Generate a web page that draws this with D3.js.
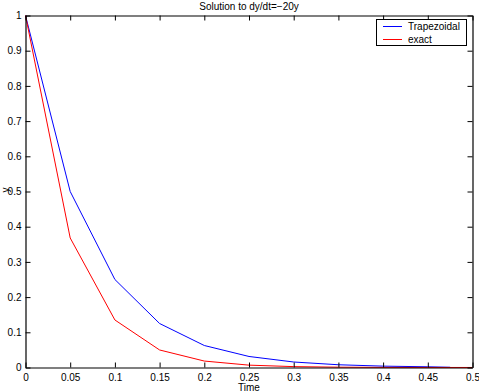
<!DOCTYPE html>
<html><head><meta charset="utf-8">
<script src="https://cdn.jsdelivr.net/npm/d3@7"></script>
<style>body{margin:0;background:#fff}svg{display:block}text{font-family:"Liberation Sans",Arial,sans-serif}</style>
</head><body>
<svg id="c" width="479" height="392"></svg>
<script>
const title = "Solution to dy/dt=\u221220y";
const xLabel = "Time";
const yLabel = "y";
const trapT = [0,0.05,0.1,0.15,0.2,0.25,0.3,0.35,0.4,0.45,0.475];
const trapY = [1,0.5,0.25,0.125,0.0625,0.0313,0.0156,0.0078,0.0039,0.002,0.0007];
const exactT = [0,0.05,0.1,0.15,0.2,0.25,0.3,0.35,0.4,0.45,0.5];
const exactY = [1,0.368,0.135,0.0498,0.0183,0.0067,0.0025,0.0009,0.0003,0.0001,0.00005];
const xTicks = [0,0.05,0.1,0.15,0.2,0.25,0.3,0.35,0.4,0.45,0.5];
const yTicks = [0,0.1,0.2,0.3,0.4,0.5,0.6,0.7,0.8,0.9,1];
const seriesNames = ["Trapezoidal","exact"];
const seriesColors = ["#0000ff","#ff0000"];

const svg = d3.select("#c");
const L=25.5, R=472.5, T=15.5, B=367.5;
const x = d3.scaleLinear().domain([0,0.5]).range([L,R]);
const y = d3.scaleLinear().domain([0,1]).range([B,T]);
const fmt = d => d===0 ? "0" : String(d);

// lines
const line = d3.line().x(d=>x(d[0])).y(d=>y(d[1]));
const series = [d3.zip(trapT,trapY), d3.zip(exactT,exactY)];
svg.selectAll("path.s").data(series).join("path").attr("class","s")
  .attr("d",line).attr("fill","none").attr("stroke",(d,i)=>seriesColors[i]).attr("stroke-width",1);

// axes
const tl=5;
const gB = svg.append("g").attr("transform",`translate(0,${B})`)
  .call(d3.axisBottom(x).tickValues(xTicks).tickFormat(fmt).tickSizeInner(-tl).tickSizeOuter(0).tickPadding(6));
const gT = svg.append("g").attr("transform",`translate(0,${T})`)
  .call(d3.axisTop(x).tickValues(xTicks).tickFormat("").tickSizeInner(-tl).tickSizeOuter(0));
const gL = svg.append("g").attr("transform",`translate(${L},0)`)
  .call(d3.axisLeft(y).tickValues(yTicks).tickFormat(fmt).tickSizeInner(-tl).tickSizeOuter(0).tickPadding(4));
const gR = svg.append("g").attr("transform",`translate(${R},0)`)
  .call(d3.axisRight(y).tickValues(yTicks).tickFormat("").tickSizeInner(-tl).tickSizeOuter(0));
[gB,gT,gL,gR].forEach(g=>{
  g.selectAll("path.domain").attr("stroke","#000").attr("stroke-width",1.2);
  g.selectAll(".tick line").attr("stroke","#000");
  g.selectAll("text").attr("font-size",10).attr("fill","#000").attr("font-family","Liberation Sans, Arial, sans-serif");
});

svg.append("text").attr("x",(L+R)/2).attr("y",10).attr("text-anchor","middle").attr("font-size",10).text(title);
svg.append("text").attr("x",(L+R)/2).attr("y",391).attr("text-anchor","middle").attr("font-size",10).text(xLabel);
svg.append("text").attr("transform","translate(9,190) rotate(-90)").attr("text-anchor","middle").attr("font-size",10).text(yLabel);

// legend
const lg = svg.append("g");
lg.append("rect").attr("x",376.5).attr("y",19.5).attr("width",90).attr("height",26).attr("fill","#fff").attr("stroke","#000");
seriesNames.forEach((n,i)=>{
  const yy = 26.5 + i*13;
  lg.append("line").attr("x1",383).attr("x2",402).attr("y1",yy).attr("y2",yy).attr("stroke",seriesColors[i]);
  lg.append("text").attr("x",408).attr("y",yy+3.5).attr("font-size",10).text(n);
});
</script>
</body></html>
